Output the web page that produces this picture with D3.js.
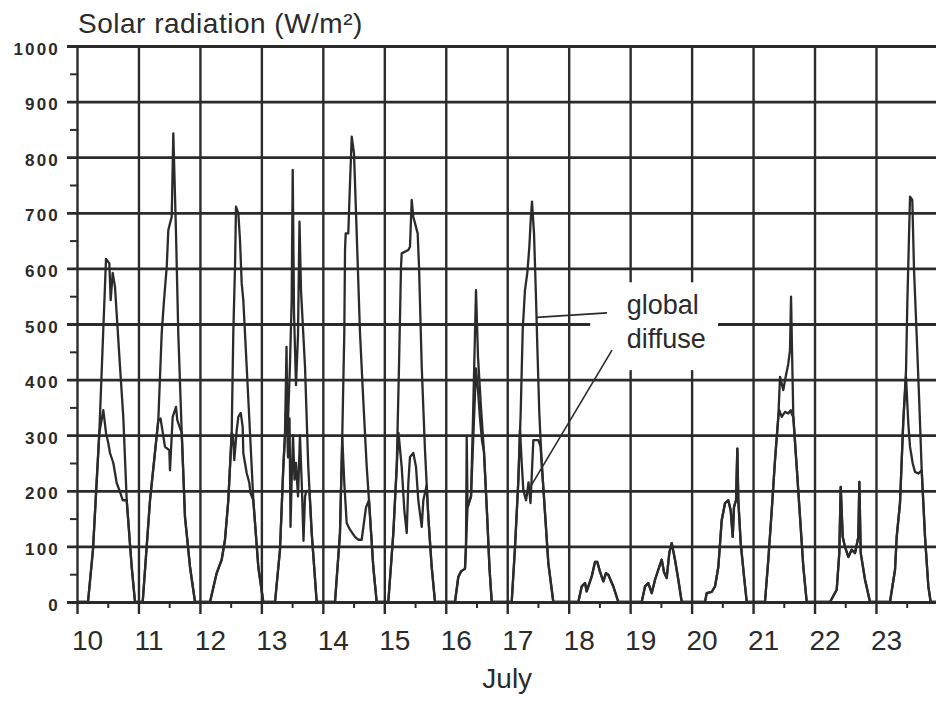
<!DOCTYPE html>
<html>
<head>
<meta charset="utf-8">
<script src="https://cdn.jsdelivr.net/npm/d3@7"></script>
<style>
  body { margin: 0; background: #fff; overflow: hidden; }
  svg { display: block; }
</style>
</head>
<body>
<div id="chart"></div>
<script>
// Solar radiation, 10-23 July: global and diffuse (W/m2)

var days = [10, 11, 12, 13, 14, 15, 16, 17, 18, 19, 20, 21, 22, 23];
var halfDays = [10.5, 11.5, 12.5, 13.5, 14.5, 15.5, 16.5, 17.5, 18.5, 19.5, 20.5, 21.5, 22.5, 23.5];
var radTicks = [0, 100, 200, 300, 400, 500, 600, 700, 800, 900, 1000];
var radMinor = [50, 150, 250, 350, 450, 550, 650, 750, 850, 950];

// [day of July, W/m2]
var globalRad = [
  [10.0,0],[10.179,0],[10.260,94],[10.363,304],[10.472,617],[10.526,609],[10.548,543],[10.581,592],[10.618,567],[10.700,423],[10.753,333],[10.809,183],[10.890,63],[10.944,0],
  [11.069,0],[11.188,183],[11.323,327],[11.378,483],[11.416,543],[11.460,603],[11.486,669],[11.541,693],[11.567,843],[11.611,663],[11.648,483],[11.704,304],[11.757,153],[11.839,63],[11.920,0],
  [12.164,0],[12.273,52],[12.354,76],[12.408,112],[12.462,183],[12.517,304],[12.543,483],[12.571,603],[12.587,711],[12.625,699],[12.652,651],[12.680,573],[12.706,543],[12.761,423],[12.815,304],[12.869,183],[12.950,63],[13.031,0],
  [13.222,0],[13.303,94],[13.357,243],[13.384,300],[13.409,459],[13.425,300],[13.466,430],[13.493,543],[13.510,777],[13.531,520],[13.563,390],[13.596,480],[13.620,684],[13.645,560],[13.710,423],[13.763,243],[13.819,124],[13.900,0],
  [14.198,0],[14.279,124],[14.317,304],[14.349,483],[14.361,633],[14.372,663],[14.414,663],[14.442,753],[14.470,837],[14.507,807],[14.551,663],[14.605,483],[14.658,363],[14.714,243],[14.751,183],[14.821,63],[14.876,0],
  [15.065,0],[15.147,124],[15.202,243],[15.239,423],[15.272,603],[15.283,627],[15.391,633],[15.418,639],[15.446,723],[15.472,693],[15.543,663],[15.565,603],[15.609,423],[15.662,273],[15.716,153],[15.771,63],[15.825,0],
  [16.150,0],[16.204,45],[16.248,55],[16.313,60],[16.329,100],[16.341,297],[16.354,170],[16.411,190],[16.443,330],[16.492,561],[16.525,440],[16.573,350],[16.622,270],[16.671,160],[16.712,60],[16.748,0],
  [17.073,0],[17.127,99],[17.181,219],[17.219,340],[17.252,489],[17.289,561],[17.327,592],[17.360,639],[17.382,687],[17.403,720],[17.436,663],[17.468,549],[17.490,459],[17.522,340],[17.561,250],[17.615,160],[17.669,70],[17.750,0],
  [18.157,0],[18.212,28],[18.266,34],[18.293,19],[18.375,46],[18.428,72],[18.466,72],[18.510,54],[18.564,37],[18.607,52],[18.645,49],[18.726,28],[18.808,0],
  [19.188,0],[19.242,28],[19.296,34],[19.351,16],[19.405,40],[19.458,58],[19.514,76],[19.551,54],[19.595,43],[19.637,88],[19.676,106],[19.730,76],[19.784,40],[19.839,0],
  [20.218,0],[20.246,16],[20.327,18],[20.381,28],[20.435,63],[20.490,147],[20.544,178],[20.597,183],[20.636,165],[20.669,117],[20.690,171],[20.723,183],[20.744,276],[20.760,183],[20.799,106],[20.853,46],[20.897,0],
  [21.194,0],[21.248,76],[21.304,165],[21.357,255],[21.411,333],[21.439,405],[21.492,381],[21.520,399],[21.574,429],[21.601,453],[21.618,549],[21.634,453],[21.655,333],[21.710,243],[21.764,153],[21.818,63],[21.873,0],
  [22.252,0],[22.361,22],[22.403,88],[22.426,207],[22.459,117],[22.496,99],[22.550,81],[22.605,94],[22.659,88],[22.713,117],[22.729,216],[22.752,88],[22.822,40],[22.903,0],
  [23.228,0],[23.310,58],[23.337,117],[23.391,178],[23.445,327],[23.489,417],[23.510,537],[23.537,657],[23.554,729],[23.591,723],[23.619,597],[23.663,477],[23.705,357],[23.744,237],[23.798,117],[23.852,28],[23.890,0],[24.0,0]
];

var diffuseRad = [
  [10.0,0],[10.179,0],[10.260,94],[10.363,304],[10.428,345],[10.472,304],[10.509,286],[10.537,268],[10.591,250],[10.646,214],[10.700,198],[10.744,183],[10.809,183],[10.890,63],[10.944,0],
  [11.069,0],[11.188,183],[11.323,327],[11.359,330],[11.432,279],[11.502,273],[11.513,237],[11.557,333],[11.611,351],[11.632,327],[11.704,304],[11.757,153],[11.839,63],[11.920,0],
  [12.164,0],[12.273,52],[12.354,76],[12.408,112],[12.462,183],[12.517,304],[12.538,300],[12.559,255],[12.599,309],[12.625,333],[12.664,340],[12.696,315],[12.706,268],[12.761,232],[12.804,214],[12.823,196],[12.869,183],[12.950,63],[13.031,0],
  [13.222,0],[13.303,94],[13.357,243],[13.384,300],[13.409,360],[13.433,260],[13.458,330],[13.474,135],[13.498,240],[13.515,300],[13.539,220],[13.563,250],[13.596,190],[13.628,300],[13.661,200],[13.685,110],[13.710,190],[13.734,200],[13.783,200],[13.819,124],[13.900,0],
  [14.198,0],[14.279,124],[14.317,295],[14.349,214],[14.388,142],[14.442,130],[14.523,117],[14.577,112],[14.632,112],[14.702,170],[14.751,183],[14.821,63],[14.876,0],
  [15.065,0],[15.147,124],[15.202,243],[15.231,304],[15.283,243],[15.326,165],[15.365,124],[15.391,214],[15.418,261],[15.472,268],[15.516,243],[15.553,183],[15.609,135],[15.635,183],[15.690,210],[15.716,153],[15.771,63],[15.825,0],
  [16.150,0],[16.204,45],[16.248,55],[16.313,60],[16.329,100],[16.354,170],[16.411,190],[16.460,330],[16.492,420],[16.525,380],[16.557,330],[16.590,290],[16.622,270],[16.671,160],[16.712,60],[16.748,0],
  [17.073,0],[17.127,99],[17.181,219],[17.208,310],[17.236,250],[17.262,201],[17.306,183],[17.330,200],[17.346,215],[17.379,178],[17.425,291],[17.506,291],[17.542,280],[17.561,250],[17.615,160],[17.669,70],[17.750,0],
  [18.157,0],[18.212,28],[18.266,34],[18.293,19],[18.375,46],[18.428,72],[18.466,72],[18.510,54],[18.564,37],[18.607,52],[18.645,49],[18.726,28],[18.808,0],
  [19.188,0],[19.242,28],[19.296,34],[19.351,16],[19.405,40],[19.458,58],[19.514,76],[19.551,54],[19.595,43],[19.637,88],[19.676,106],[19.730,76],[19.784,40],[19.839,0],
  [20.218,0],[20.246,16],[20.327,18],[20.381,28],[20.435,63],[20.490,147],[20.544,178],[20.597,183],[20.636,165],[20.669,117],[20.690,171],[20.723,183],[20.744,276],[20.760,183],[20.799,106],[20.853,46],[20.897,0],
  [21.194,0],[21.248,76],[21.304,165],[21.357,255],[21.411,333],[21.427,345],[21.466,333],[21.520,342],[21.574,339],[21.613,345],[21.634,337],[21.655,333],[21.710,243],[21.764,153],[21.818,63],[21.873,0],
  [22.252,0],[22.361,22],[22.403,88],[22.426,207],[22.459,117],[22.496,99],[22.550,81],[22.605,94],[22.659,88],[22.713,117],[22.729,216],[22.752,88],[22.822,40],[22.903,0],
  [23.228,0],[23.310,58],[23.337,117],[23.391,178],[23.445,327],[23.489,405],[23.510,357],[23.526,321],[23.554,279],[23.598,249],[23.635,234],[23.689,231],[23.744,237],[23.798,117],[23.852,28],[23.890,0],[24.0,0]
];

var width = 936, height = 702;
var margin = {top: 46, bottom: 100, left: 77};
var dayWidth = 61.46;
var ink = "#2b2b2b";
var font = "Arial, 'Liberation Sans', Helvetica, sans-serif";

var svg = d3.select("#chart").append("svg")
  .attr("width", width)
  .attr("height", height);

// Create scales
var xScale = d3.scaleLinear()
  .domain([10, 24])
  .range([margin.left, margin.left + 14 * dayWidth]);
var yScale = d3.scaleLinear()
  .domain([0, 1000])
  .range([height - margin.bottom, margin.top]);

function plain(g, w) {
  g.select(".domain").remove();
  g.selectAll("line").attr("stroke", ink).attr("stroke-width", w);
}

// Horizontal gridlines (stick out left of the axis as ticks)
svg.append("g")
  .attr("transform", "translate(" + (margin.left - 10) + ",0)")
  .call(d3.axisRight(yScale).tickValues(radTicks).tickSize(width - margin.left + 10).tickFormat(""))
  .call(plain, 2.8);

// Small ticks at the 50s
svg.append("g")
  .attr("transform", "translate(" + margin.left + ",0)")
  .call(d3.axisLeft(yScale).tickValues(radMinor).tickSize(7).tickFormat(""))
  .call(plain, 2);

// Vertical day lines, running past zero as the day ticks
var tickLen = 12;
svg.append("g")
  .attr("transform", "translate(0," + (yScale(0) + tickLen) + ")")
  .call(d3.axisTop(xScale).tickValues(days).tickSize(yScale(0) + tickLen - yScale(1000)).tickFormat(""))
  .call(plain, 2.4);

// Half day ticks
svg.append("g")
  .attr("transform", "translate(0," + yScale(0) + ")")
  .call(d3.axisBottom(xScale).tickValues(halfDays).tickSize(6).tickFormat(""))
  .call(plain, 2);

// Clear box behind the legend words
svg.append("rect")
  .attr("x", xScale(18.35))
  .attr("y", yScale(575))
  .attr("width", xScale(20.43) - xScale(18.35))
  .attr("height", yScale(417) - yScale(575))
  .attr("fill", "#fff");

// Axis labels
var yAxis = svg.append("g")
  .attr("transform", "translate(60,0)")
  .call(d3.axisLeft(yScale).tickValues(radTicks).tickSize(0).tickPadding(0).tickFormat(d3.format("d")));
yAxis.select(".domain").remove();
yAxis.attr("font-family", font).attr("font-size", 17).attr("font-weight", "bold");
yAxis.selectAll("text")
  .attr("fill", ink)
  .attr("dy", "0.47em")
  .style("letter-spacing", "2.2px");

var xAxis = svg.append("g")
  .attr("transform", "translate(0,630)")
  .call(d3.axisBottom(xScale).tickValues(days).tickSize(0).tickPadding(0));
xAxis.select(".domain").remove();
xAxis.attr("font-family", font).attr("font-size", 28);
xAxis.selectAll("text")
  .attr("fill", ink)
  .attr("dx", 10);

svg.append("text")
  .attr("x", xScale(17))
  .attr("y", 688)
  .attr("text-anchor", "middle")
  .attr("font-family", font)
  .attr("font-size", 28)
  .attr("fill", ink)
  .text("July");

svg.append("text")
  .attr("x", margin.left + 1)
  .attr("y", 33)
  .attr("font-family", font)
  .attr("font-size", 28)
  .attr("fill", ink)
  .style("letter-spacing", "0.5px")
  .text("Solar radiation (W/m²)");

// Draw lines
var line = d3.line()
  .x(function(d) { return xScale(d[0]); })
  .y(function(d) { return yScale(d[1]); });

[globalRad, diffuseRad].forEach(function(series) {
  svg.append("path")
    .datum(series)
    .attr("d", line)
    .attr("fill", "none")
    .attr("stroke", ink)
    .attr("stroke-width", 2.3)
    .attr("stroke-linejoin", "round");
});

// Legend words with leader lines
var leaders = [
  {from: [17.480, 512], to: [18.624, 520]},
  {from: [17.387, 209], to: [18.705, 453]}
];
svg.selectAll(".leader")
  .data(leaders).enter()
  .append("line")
  .attr("x1", function(d) { return xScale(d.from[0]); })
  .attr("y1", function(d) { return yScale(d.from[1]); })
  .attr("x2", function(d) { return xScale(d.to[0]); })
  .attr("y2", function(d) { return yScale(d.to[1]); })
  .attr("stroke", ink)
  .attr("stroke-width", 1.6);

svg.selectAll(".legend")
  .data([["global", 518], ["diffuse", 456]]).enter()
  .append("text")
  .attr("x", xScale(18.944))
  .attr("y", function(d) { return yScale(d[1]); })
  .attr("font-family", font)
  .attr("font-size", 27)
  .attr("fill", ink)
  .text(function(d) { return d[0]; });
</script>
</body>
</html>
